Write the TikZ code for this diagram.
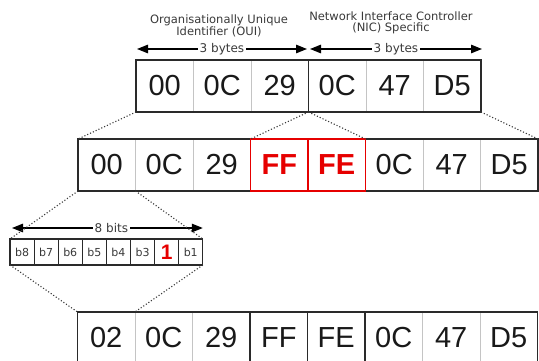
\documentclass[tikz,border=0pt]{standalone}
\usepackage{fontspec}
\setmainfont{Liberation Sans}
\newfontfamily\labfont{DejaVu Sans}
\usetikzlibrary{arrows.meta}
\definecolor{darkline}{HTML}{2A2A2A}
\definecolor{lightline}{HTML}{C4C4C4}
\definecolor{hexred}{HTML}{E60000}
\definecolor{labgray}{HTML}{3A3A3A}
\tikzset{
  bytecell/.style={draw=lightline, line width=0.7pt, minimum width=57.5pt, minimum height=52pt,
    inner sep=0pt, outer sep=0pt, anchor=north west, text=black!90,
    font=\fontsize{29}{29}\selectfont},
  redcell/.style={bytecell, text=hexred, font=\fontsize{29}{29}\selectfont\bfseries},
  bitcell/.style={draw=darkline, line width=1pt, minimum width=24.1pt, minimum height=26pt,
    inner sep=0pt, outer sep=0pt, anchor=north west, text=labgray,
    font=\labfont\fontsize{11}{11}\selectfont},
  outline/.style={draw=darkline, line width=1.1pt},
  redoutline/.style={draw=hexred, line width=1.1pt},
  dots/.style={dotted, line width=1.1pt, draw=labgray},
  dimarrow/.style={line width=1.2pt, draw=black, {Triangle[length=11pt,width=8.5pt]}-{Triangle[length=11pt,width=8.5pt]}},
  dimlabel/.style={fill=white, inner sep=1.5pt, text=labgray, font=\labfont\fontsize{12}{12}\selectfont},
  toplabel/.style={align=center, inner sep=0pt, anchor=north, text=labgray, font=\labfont\fontsize{11.5}{10.5}\selectfont}
}
\begin{document}
\begin{tikzpicture}[x=1pt,y=-1pt]
\clip (0,0) rectangle (539,361);
\fill[white] (0,0) rectangle (539,361);
% top row
\foreach \t [count=\i] in {00,0C,29,0C,47,D5}{
  \node[bytecell] (t\i) at ({136+57.5*(\i-1)},60) {\t};
}
\draw[outline] (t1.north west) rectangle (t3.south east);
\draw[outline] (t4.north west) rectangle (t6.south east);
% middle row
\node[bytecell] (m1) at (78,139) {00};
\node[bytecell] (m2) at (135.5,139) {0C};
\node[bytecell] (m3) at (193,139) {29};
\node[redcell] (m4) at (250.5,139) {FF};
\node[redcell] (m5) at (308,139) {FE};
\node[bytecell] (m6) at (365.5,139) {0C};
\node[bytecell] (m7) at (423,139) {47};
\node[bytecell] (m8) at (480.5,139) {D5};
\draw[outline] (m1.north west) rectangle (m8.south east);
\draw[redoutline] (m4.north west) rectangle (m5.south east);
\draw[draw=hexred, line width=1.1pt] (m4.north east) -- (m4.south east);
% bits row
\foreach \t [count=\i] in {b8,b7,b6,b5,b4,b3,{},b1}{
  \node[bitcell] (bit\i) at ({10+24.1*(\i-1)},239) {\t};
}
\node[text=hexred, font=\fontsize{21}{21}\selectfont\bfseries] (one) at (bit7.center) {1};
\draw[outline] (bit1.north west) rectangle (bit8.south east);
% bottom row
\foreach \t [count=\i] in {02,0C,29,FF,FE,0C,47,D5}{
  \node[bytecell] (b\i) at ({77.5+57.5*(\i-1)},312) {\t};
}
\draw[outline] (b1.north west) rectangle (b8.south east);
\draw[outline] (b3.north east) -- (b3.south east);
\draw[outline] (b4.north east) -- (b4.south east);
\draw[outline] (b5.north east) -- (b5.south east);
% labels
\node[toplabel] (oui) at (219,14.5) {Organisationally Unique\\Identifier (OUI)};
\node[toplabel] (nic) at (391,12) {Network Interface Controller\\(NIC) Specific};
% dimension arrows
\coordinate (a1) at ([yshift=11pt,xshift=1pt]t1.north west);
\coordinate (a2) at ([yshift=11pt,xshift=-1.5pt]t3.north east);
\coordinate (a3) at ([yshift=11pt,xshift=1.5pt]t4.north west);
\coordinate (a4) at ([yshift=11pt,xshift=1pt]t6.north east);
\draw[dimarrow] (a1) -- node[dimlabel] (lab1) {3 bytes} (a2);
\draw[dimarrow] (a3) -- node[dimlabel] (lab2) {3 bytes} (a4);
\coordinate (a5) at ([yshift=11pt,xshift=2pt]bit1.north west);
\coordinate (a6) at ([yshift=11pt]bit8.north east);
\draw[dimarrow] (a5) -- node[dimlabel, xshift=4pt] (lab3) {8 bits} (a6);
% dotted connectors
\draw[dots] (t1.south west) -- (m1.north west);
\draw[dots] (t3.south east) -- (m4.north west);
\draw[dots] (t3.south east) -- (m5.north east);
\draw[dots] (t6.south east) -- (m8.north east);
\draw[dots] (m1.south west) -- (bit1.north west);
\draw[dots] (m1.south east) -- (bit8.north east);
\draw[dots] (bit1.south west) -- (b1.north west);
\draw[dots] (bit8.south east) -- (b1.north east);
\end{tikzpicture}
\end{document}
